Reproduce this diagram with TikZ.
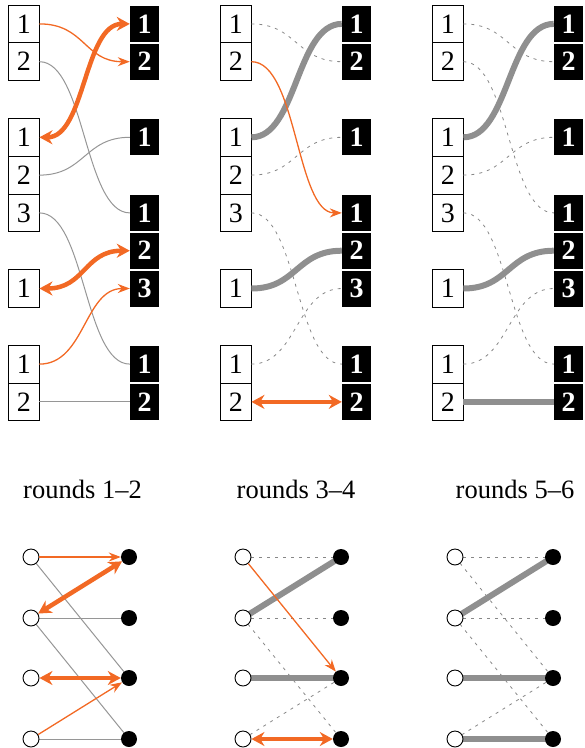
\documentclass[tikz,border=0pt]{standalone}
\usepackage{fontspec}
\setmainfont{Liberation Serif}
\usetikzlibrary{arrows.meta,backgrounds}
\definecolor{org}{RGB}{242,105,36}
\definecolor{gthick}{RGB}{143,143,143}
\definecolor{gthin}{RGB}{150,150,150}
\definecolor{gdash}{RGB}{135,135,135}
\tikzset{
  wbox/.style={draw=black,line width=0.9pt,fill=white,minimum width=30.5pt,minimum height=37.8pt,inner sep=0pt,font=\fontsize{28}{34}\selectfont},
  bbox/.style={fill=black,text=white,minimum width=29pt,minimum height=36pt,inner sep=0pt,font=\fontsize{28}{34}\selectfont\bfseries},
  wc/.style={circle,draw=black,line width=0.9pt,fill=white,minimum size=16pt,inner sep=0pt},
  bc/.style={circle,fill=black,minimum size=16pt,inner sep=0pt},
  thingrey/.style={draw=gthin,line width=1pt},
  dashgrey/.style={draw=gdash,line width=0.8pt,dash pattern=on 3pt off 5pt},
  thickgrey/.style={draw=gthick,line width=6pt},
  thinorg/.style={draw=org,line width=1.3pt,-{Stealth[length=12pt,width=9pt]}},
  thickorg/.style={draw=org,line width=4.5pt,{Stealth[length=13pt,width=14pt]}-{Stealth[length=13pt,width=14pt]}},
  lbl/.style={font=\fontsize{26.5}{32}\selectfont,anchor=base}
}
\newcommand{\sconn}[3]{\draw[#1] (#2.east) .. controls +(45.5,0) and +(-45.5,0) .. (#3.west);}
\begin{document}
\begin{tikzpicture}[x=1pt,y=-1pt]
\useasboundingbox (0,0) rectangle (585,748);
% top panels: boxes
\foreach \k in {0,1,2}{
  \foreach \r/\t in {0/1,1/2,3/1,4/2,5/3,7/1,9/1,10/2}
    \node[wbox] (p\k w\r) at ({23.75+212*\k},{23.9+37.8*\r}) {\t};
  \foreach \r/\t in {0/1,1/2,3/1,5/1,6/2,7/3,9/1,10/2}
    \node[bbox] (p\k b\r) at ({144.5+212*\k},{23.9+37.8*\r}) {\t};
}
% panel 1 (rounds 1-2)
\sconn{thingrey}{p0w1}{p0b5}
\sconn{thingrey}{p0w4}{p0b3}
\sconn{thingrey}{p0w5}{p0b9}
\draw[thingrey] (p0w10.east) -- (p0b10.west);
\sconn{thinorg}{p0w0}{p0b1}
\sconn{thickorg}{p0w3}{p0b0}
\sconn{thickorg}{p0w7}{p0b6}
\sconn{thinorg}{p0w9}{p0b7}
% panel 2 (rounds 3-4)
\sconn{dashgrey}{p1w0}{p1b1}
\sconn{dashgrey}{p1w4}{p1b3}
\sconn{dashgrey}{p1w5}{p1b9}
\sconn{dashgrey}{p1w9}{p1b7}
\sconn{thickgrey}{p1w3}{p1b0}
\sconn{thickgrey}{p1w7}{p1b6}
\sconn{thinorg}{p1w1}{p1b5}
\draw[thickorg] (p1w10.east) -- (p1b10.west);
% panel 3 (rounds 5-6)
\sconn{dashgrey}{p2w0}{p2b1}
\sconn{dashgrey}{p2w1}{p2b5}
\sconn{dashgrey}{p2w4}{p2b3}
\sconn{dashgrey}{p2w5}{p2b9}
\sconn{dashgrey}{p2w9}{p2b7}
\sconn{thickgrey}{p2w3}{p2b0}
\sconn{thickgrey}{p2w7}{p2b6}
\draw[thickgrey] (p2w10.east) -- (p2b10.west);
% labels
\node[lbl] (l0) at (82.5,498) {rounds 1–2};
\node[lbl] (l1) at (296,498) {rounds 3–4};
\node[lbl] (l2) at (515,498) {rounds 5–6};
% bottom graphs
\foreach \k in {0,1,2}{
  \foreach \i/\y in {0/557,1/618,2/678,3/739}{
    \node[wc] (q\k w\i) at ({31+212*\k},\y) {};
    \node[bc] (q\k b\i) at ({129+212*\k},\y) {};
  }
}
\begin{pgfonlayer}{background}
% panel 1
\draw[thingrey] (q0w0.center) -- (q0b2.center);
\draw[thingrey] (q0w1.center) -- (q0b1.center);
\draw[thingrey] (q0w1.center) -- (q0b3.center);
\draw[thingrey] (q0w3.center) -- (q0b3.center);
% panel 2
\draw[dashgrey] (q1w0.center) -- (q1b0.center);
\draw[dashgrey] (q1w1.center) -- (q1b1.center);
\draw[dashgrey] (q1w1.center) -- (q1b3.center);
\draw[dashgrey] (q1w3.center) -- (q1b2.center);
\draw[thickgrey] (q1w1.center) -- (q1b0.center);
\draw[thickgrey] (q1w2.center) -- (q1b2.center);
% panel 3
\draw[dashgrey] (q2w0.center) -- (q2b0.center);
\draw[dashgrey] (q2w0.center) -- (q2b2.center);
\draw[dashgrey] (q2w1.center) -- (q2b1.center);
\draw[dashgrey] (q2w1.center) -- (q2b3.center);
\draw[dashgrey] (q2w3.center) -- (q2b2.center);
\draw[thickgrey] (q2w1.center) -- (q2b0.center);
\draw[thickgrey] (q2w2.center) -- (q2b2.center);
\draw[thickgrey] (q2w3.center) -- (q2b3.center);
\end{pgfonlayer}
% orange bottom
\draw[thinorg] (q0w0) -- (q0b0);
\draw[thickorg] (q0w1) -- (q0b0);
\draw[thickorg] (q0w2) -- (q0b2);
\draw[thinorg] (q0w3) -- (q0b2);
\draw[thinorg] (q1w0) -- (q1b2);
\draw[thickorg] (q1w3) -- (q1b3);
\end{tikzpicture}
\end{document}
